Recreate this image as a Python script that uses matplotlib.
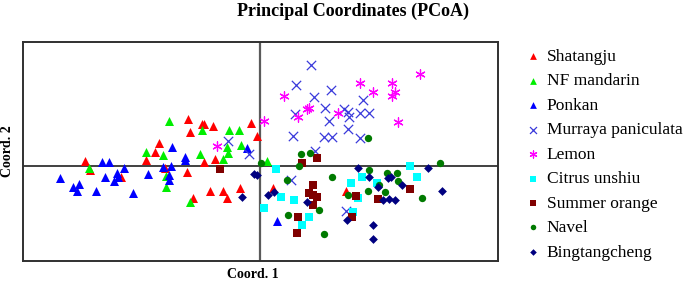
import matplotlib
matplotlib.use("Agg")
import matplotlib.pyplot as plt

plt.rcParams['font.family'] = ['Liberation Serif', 'DejaVu Serif']

# ---- data (Coord. 1, Coord. 2) ----
shatangju_x = [-1.75, -1.70, -1.39, -1.14, -1.047, -1.01, -0.95, -0.717, -0.583, -0.557, -0.473, -0.70,
               -0.093, -0.035, -0.557, -0.455, -0.733, -0.50, -0.373, -0.33, -0.20, -0.673, 0.127, 0.86]
shatangju_y = [0.055, -0.043, -0.113, 0.06, 0.143, 0.227, -0.023, 0.473, 0.417, 0.417, 0.403, 0.337,
               0.43, 0.30, 0.043, 0.07, -0.055, -0.245, -0.245, -0.32, -0.217, -0.32, -0.215, -0.245]

nf_x = [-1.71, -1.14, -0.973, -0.915, -0.94, -0.94, -0.583, -0.307, -0.213, -0.19, -0.605, -0.33,
        -0.317, -0.367, -0.70, 0.067]
nf_y = [-0.015, 0.145, 0.115, 0.45, -0.10, -0.213, 0.365, 0.36, 0.36, 0.213, 0.12, 0.19,
        0.135, 0.07, -0.36, 0.05]

ponkan_x = [-2.00, -1.87, -1.807, -1.835, -1.64, -1.58, -1.507, -1.547, -1.435, -1.425, -1.46, -1.362,
            -1.27, -1.12, -0.975, -0.887, -0.91, -0.91, -0.885, -0.75, -0.75, -0.133, 0.167]
ponkan_y = [-0.117, -0.213, -0.183, -0.247, -0.25, 0.04, 0.04, -0.105, -0.067, -0.107, -0.15, -0.017,
            -0.272, -0.08, -0.007, 0.003, -0.085, -0.14, 0.19, 0.095, 0.06, 0.18, -0.545]

murraya_x = [-0.317, -0.115, 0.505, 0.36, 0.54, 0.705, 1.025, 0.35, 0.645, 0.69, 0.84, 0.875, 0.885,
             1.00, 1.09, 0.875, 0.325, 0.635, 0.717, 1.00, 0.55, 0.305, 0.863]
murraya_y = [0.25, 0.117, 1.01, 0.81, 0.693, 0.76, 0.665, 0.525, 0.58, 0.45, 0.567, 0.543, 0.49,
             0.533, 0.533, 0.367, 0.30, 0.293, 0.293, 0.277, 0.15, -0.14, -0.453]

lemon_x = [-0.433, 0.035, 0.235, 0.375, 0.465, 0.49, 0.775, 1.00, 1.125, 1.32, 1.315, 1.35, 1.60, 1.375]
lemon_y = [0.20, 0.453, 0.705, 0.493, 0.567, 0.577, 0.533, 0.833, 0.737, 0.833, 0.70, 0.737, 0.92, 0.443]

unshiu_x = [0.16, 0.04, 0.208, 0.342, 0.492, 0.423, 0.913, 1.017, 0.983, 0.93, 1.167, 1.495, 1.567]
unshiu_y = [-0.03, -0.417, -0.307, -0.34, -0.507, -0.585, -0.173, -0.105, -0.32, -0.455, -0.173, 0.005, -0.105]

summer_x = [-0.40, 0.567, 0.417, 0.533, 0.493, 0.533, 0.57, 0.533, 0.38, 0.367, 0.963, 0.917, 1.175, 1.495]
summer_y = [-0.03, 0.085, 0.032, -0.185, -0.27, -0.285, -0.307, -0.393, -0.507, -0.665, -0.297, -0.507, -0.33, -0.232]

navel_x = [0.007, 0.41, 0.495, 0.393, 1.083, 0.273, 0.72, 1.09, 1.273, 1.365, 1.383, 1.19, 1.083, 1.25,
           0.875, 0.592, 0.278, 0.638, 1.617, 1.795]
navel_y = [0.03, 0.12, 0.135, 0.005, 0.277, -0.135, -0.105, -0.04, -0.073, -0.067, -0.145, -0.185, -0.247,
           -0.257, -0.29, -0.44, -0.49, -0.677, -0.318, 0.03]

bing_x = [-0.183, -0.065, -0.027, 0.083, 0.142, 0.467, 0.975, 1.085, 1.183, 1.28, 1.312, 1.42, 1.233,
          1.292, 1.345, 0.865, 1.133, 1.133, 1.68, 1.823]
bing_y = [-0.305, -0.08, -0.093, -0.29, -0.262, -0.36, -0.023, -0.107, -0.21, -0.115, -0.107, -0.19, -0.34,
          -0.33, -0.34, -0.535, -0.587, -0.732, -0.023, -0.247]

labels = ["Shatangju", "NF mandarin", "Ponkan", "Murraya paniculata", "Lemon",
          "Citrus unshiu", "Summer orange", "Navel", "Bingtangcheng"]

# ---- figure ----
W, H = 685, 284
fig = plt.figure(figsize=(W / 100, H / 100), dpi=100)
ax = fig.add_axes([22.7 / W, 1 - 260.7 / H, (498.3 - 22.7) / W, (260.7 - 41.5) / H])

series = [
    (shatangju_x, shatangju_y, dict(marker='^', color='#FF0000', s=42, linewidths=0)),
    (nf_x, nf_y, dict(marker='^', color='#00EE00', s=42, linewidths=0)),
    (ponkan_x, ponkan_y, dict(marker='^', color='#0000FF', s=42, linewidths=0)),
    (murraya_x, murraya_y, dict(marker='x', color='#3A3ADB', s=45, linewidths=0.9)),
    (lemon_x, lemon_y, dict(marker=(6, 2, 0), color='#FF00FF', s=45, linewidths=0.9)),
    (unshiu_x, unshiu_y, dict(marker='s', color='#00FFFF', s=28, linewidths=0)),
    (summer_x, summer_y, dict(marker='s', color='#800000', s=26, linewidths=0)),
    (navel_x, navel_y, dict(marker='o', color='#007A00', s=28, linewidths=0)),
    (bing_x, bing_y, dict(marker='D', color='#000080', s=20, linewidths=0)),
]

handles = []
for (xs, ys, kw), lab in zip(series, labels):
    h = ax.scatter(xs, ys, label=lab, zorder=3, **kw)
    handles.append(h)

ax.axhline(0, color='#404040', lw=1.4, zorder=1)
ax.axvline(0, color='#5a5a5a', lw=1.6, zorder=1)
ax.set_xlim(-2.373, 2.383)
ax.set_ylim(-0.947, 1.245)
ax.set_xticks([])
ax.set_yticks([])
for sp in ax.spines.values():
    sp.set_color('#303030')
    sp.set_linewidth(1.4)

fig.text(353 / W, 1 - 11 / H, "Principal Coordinates (PCoA)", ha='center', va='center',
         fontsize=13, fontweight='bold')
fig.text(253 / W, 1 - 275 / H, "Coord. 1", ha='center', va='center', fontsize=10, fontweight='bold')
fig.text(8 / W, 1 - 151 / H, "Coord. 2", ha='center', va='center', fontsize=10, fontweight='bold',
         rotation=90)

leg = fig.legend(handles=handles, labels=labels, loc='upper left',
                 bbox_to_anchor=(524.3 / W, 1 - 48.5 / H), frameon=False, fontsize=12.5,
                 handletextpad=0.3, labelspacing=0.48, borderpad=0, borderaxespad=0,
                 handlelength=1.0, markerscale=0.75, scatterpoints=1)

fig.savefig("out.png", dpi=100)
